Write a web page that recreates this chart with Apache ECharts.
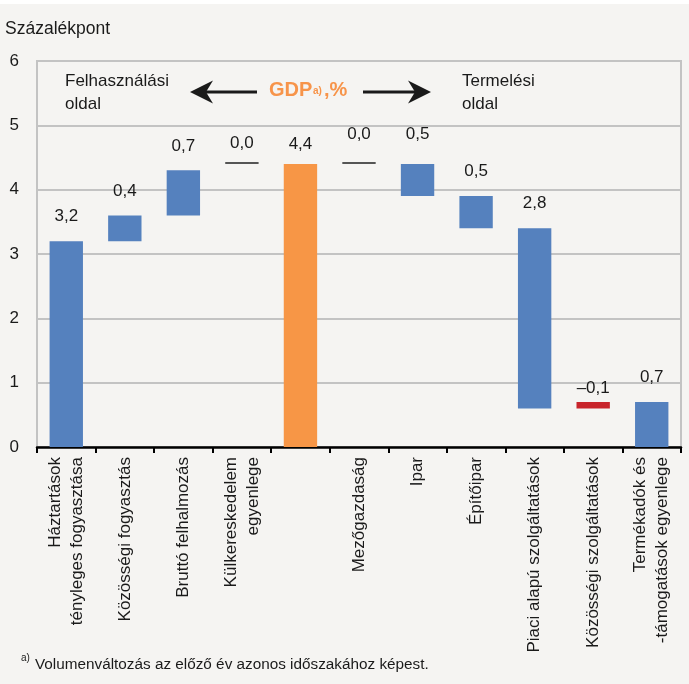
<!DOCTYPE html>
<html>
<head>
<meta charset="utf-8">
<script src="https://cdn.jsdelivr.net/npm/echarts@6/dist/echarts.min.js"></script>
<style>
html,body{margin:0;padding:0;background:#f5f4f2;}
#chart{width:689px;height:684px;}
</style>
</head>
<body>
<div id="chart"></div>
<script>
// ---- data ----
const categories = [
  'Háztartások\ntényleges fogyasztása',
  'Közösségi fogyasztás',
  'Bruttó felhalmozás',
  'Külkereskedelem\negyenlege',
  '',
  'Mezőgazdaság',
  'Ipar',
  'Építőipar',
  'Piaci alapú szolgáltatások',
  'Közösségi szolgáltatások',
  'Termékadók és\n-támogatások egyenlege'
];
const barLow  = [0,   3.2, 3.6, 4.4, 0,   4.4, 3.9, 3.4, 0.6, 0.6, 0];
const barHigh = [3.2, 3.6, 4.3, 4.4, 4.4, 4.4, 4.4, 3.9, 3.4, 0.7, 0.7];
const contribution = [3.2, 0.4, 0.7, 0.0, 4.4, 0.0, 0.5, 0.5, 2.8, -0.1, 0.7];
const barKind = ['pos','pos','pos','zero','total','zero','pos','pos','pos','neg','pos'];
const yTicks = [0, 1, 2, 3, 4, 5, 6];

// ---- styles ----
const kindColor = {pos:'#5581be', zero:'#555555', total:'#f79646', neg:'#c8242b'};
const labelGap = [16, 16, 16, 10, 11, 19, 21, 16, 16, 5, 16];
const FONT = '"Liberation Sans", Arial, sans-serif';
const TXT = '#1a1a1a';

function fmt(v){
  return (v < 0 ? '\u2013' : '') + Math.abs(v).toFixed(1).replace('.', ',');
}

const baseData = barLow.slice();
const deltaData = barHigh.map((h, i) => ({
  value: +(h - barLow[i]).toFixed(2),
  itemStyle: {color: kindColor[barKind[i]]},
  label: {distance: labelGap[i], formatter: fmt(contribution[i])}
}));

const chart = echarts.init(document.getElementById('chart'), null, {renderer:'canvas'});
chart.setOption({
  backgroundColor: '#f5f4f2',
  animation: false,
  textStyle: {fontFamily: FONT},
  grid: {left: 37, right: 8, top: 61, bottom: 237, show: true,
         borderColor: '#c3c3c3', borderWidth: 2, backgroundColor: 'transparent'},
  xAxis: {
    type: 'category',
    data: categories,
    axisLine: {lineStyle: {color: '#000', width: 2.5}},
    axisTick: {show: true, length: 6, lineStyle: {color: '#000', width: 2}},
    axisLabel: {rotate: 90, interval: 0, fontSize: 17, lineHeight: 22, color: TXT,
                margin: 10, fontFamily: FONT}
  },
  yAxis: {
    type: 'value', min: yTicks[0], max: yTicks[yTicks.length - 1], interval: 1,
    axisLine: {show: true, lineStyle: {color: '#c3c3c3', width: 2}},
    axisTick: {show: false},
    splitLine: {lineStyle: {color: '#c3c3c3', width: 2}},
    axisLabel: {fontSize: 17, color: TXT, margin: 18, fontFamily: FONT}
  },
  series: [
    {type: 'bar', stack: 'w', data: baseData, barWidth: '57%',
     itemStyle: {color: 'transparent'}, silent: true},
    {type: 'bar', stack: 'w', data: deltaData, barWidth: '57%', barMinHeight: 2,
     label: {show: true, position: 'top', fontSize: 17, color: TXT, fontFamily: FONT}}
  ],
  graphic: [
    {type: 'rect', shape: {x: 0, y: 0, width: 689, height: 4}, style: {fill: '#ffffff'}},
    {type: 'text', left: 5, top: 20, style: {text: 'Százalékpont', font: '17.5px ' + FONT, fill: TXT}},
    {type: 'text', left: 65, top: 70, style: {text: 'Felhasználási\noldal', font: '17px ' + FONT, fill: TXT, lineHeight: 23}},
    {type: 'text', left: 462, top: 70, style: {text: 'Termelési\noldal', font: '17px ' + FONT, fill: TXT, lineHeight: 23}},
    // arrows
    {type: 'line', shape: {x1: 205, y1: 92, x2: 257, y2: 92}, style: {stroke: '#1a1a1a', lineWidth: 3}},
    {type: 'polygon', shape: {points: [[190, 92], [213, 80.5], [206, 92], [213, 103.5]]}, style: {fill: '#1a1a1a'}},
    {type: 'line', shape: {x1: 363, y1: 92, x2: 416, y2: 92}, style: {stroke: '#1a1a1a', lineWidth: 3}},
    {type: 'polygon', shape: {points: [[431, 92], [408, 80.5], [415, 92], [408, 103.5]]}, style: {fill: '#1a1a1a'}},
    // GDP label
    {type: 'text', x: 269, y: 100, style: {text: 'GDP', font: 'bold 20px ' + FONT, fill: '#f7944a', textVerticalAlign: 'bottom', verticalAlign: 'bottom'}},
    {type: 'text', x: 313, y: 86, style: {text: 'a)', font: 'bold 10px ' + FONT, fill: '#f7944a'}},
    {type: 'text', x: 324, y: 100, style: {text: ',%', font: 'bold 20px ' + FONT, fill: '#f7944a', textVerticalAlign: 'bottom', verticalAlign: 'bottom'}},
    // footnote
    {type: 'text', x: 21, y: 653, style: {text: 'a)', font: '10px ' + FONT, fill: TXT}},
    {type: 'text', x: 35, y: 657, style: {text: 'Volumenváltozás az előző év azonos időszakához képest.', font: '15.3px ' + FONT, fill: TXT}}
  ]
});
</script>
</body>
</html>
